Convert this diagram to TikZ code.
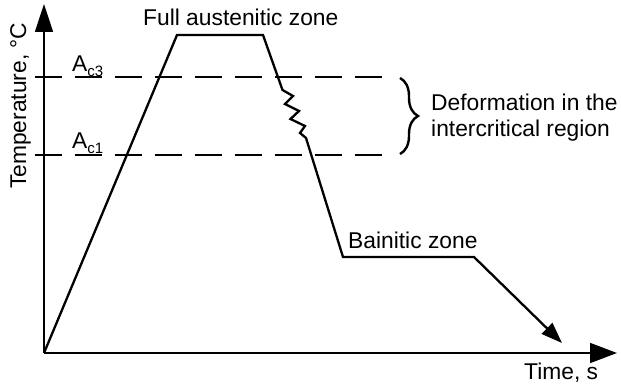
\documentclass[tikz,border=0pt]{standalone}
\usepackage{fontspec}
\setmainfont{Liberation Sans}
\usetikzlibrary{arrows.meta,decorations.pathreplacing}
\begin{document}
\begin{tikzpicture}[x=1pt,y=-1pt,
  axis/.style={line width=1.6pt},
  dashline/.style={line width=1.3pt, dash pattern=on 27pt off 13pt},
  curve/.style={line width=2.3pt, line join=miter},
  lab/.style={font=\fontsize{22.8}{26}\selectfont, inner sep=0pt}]
\useasboundingbox (0,0) rectangle (621,385);
% axes
\coordinate (O) at (44,353);
\coordinate (ytip) at (44,4);
\coordinate (xtip) at (617,353);
\draw[axis,-{Triangle[length=28pt,width=18pt]}] (O) -- (ytip);
\draw[axis,-{Triangle[length=27pt,width=20pt]}] (O) -- (xtip);
% critical temperatures
\coordinate (c3a) at (35,77);  \coordinate (c3b) at (388,77);
\coordinate (c1a) at (35,155); \coordinate (c1b) at (388,155);
\draw[dashline] (c3a) -- (c3b);
\draw[dashline] (c1a) -- (c1b);
% thermal cycle
\coordinate (p1) at (177,35);
\coordinate (p2) at (263,35);
\coordinate (z0) at (282.5,90);
\coordinate (z1) at (293,96);
\coordinate (z2) at (285,104);
\coordinate (z3) at (299,111);
\coordinate (z4) at (290.5,119);
\coordinate (z5) at (305,126);
\coordinate (z6) at (300,133);
\coordinate (z7) at (306,138);
\coordinate (p3) at (343,257);
\coordinate (p4) at (474,257);
\coordinate (p5) at (562,343);
\draw[curve,-{Triangle[length=21pt,width=15pt]}] (O) -- (p1) -- (p2) -- (z0) -- (z1) -- (z2) -- (z3) -- (z4) -- (z5) -- (z6) -- (z7) -- (p3) -- (p4) -- (p5);
% brace
\coordinate (b1) at (400,78);
\coordinate (b2) at (400,154);
\draw[line width=2.4pt, decorate, decoration={brace, amplitude=18pt, aspect=0.5}] (b1) -- (b2);
% labels
\node[lab,anchor=base west] (full) at (143,26) {Full austenitic zone};
\node[lab,anchor=base west] (bain) at (348,248) {Bainitic zone};
\node[lab,anchor=base west] (time) at (524,379) {Time, s};
\node[lab,anchor=base west,rotate=90] (temp) at (26,189) {Temperature, \textdegree C};
\node[lab,anchor=base west] (def1) at (431,111) {Deformation in the};
\node[lab,anchor=base west] (def2) at (431,137) {intercritical region};
\node[lab,anchor=base west] (ac3) at (72,72) {A\raisebox{-4.5pt}{\fontsize{15}{15}\selectfont c3}};
\node[lab,anchor=base west] (ac1) at (72,149) {A\raisebox{-4.5pt}{\fontsize{15}{15}\selectfont c1}};
\end{tikzpicture}
\end{document}
